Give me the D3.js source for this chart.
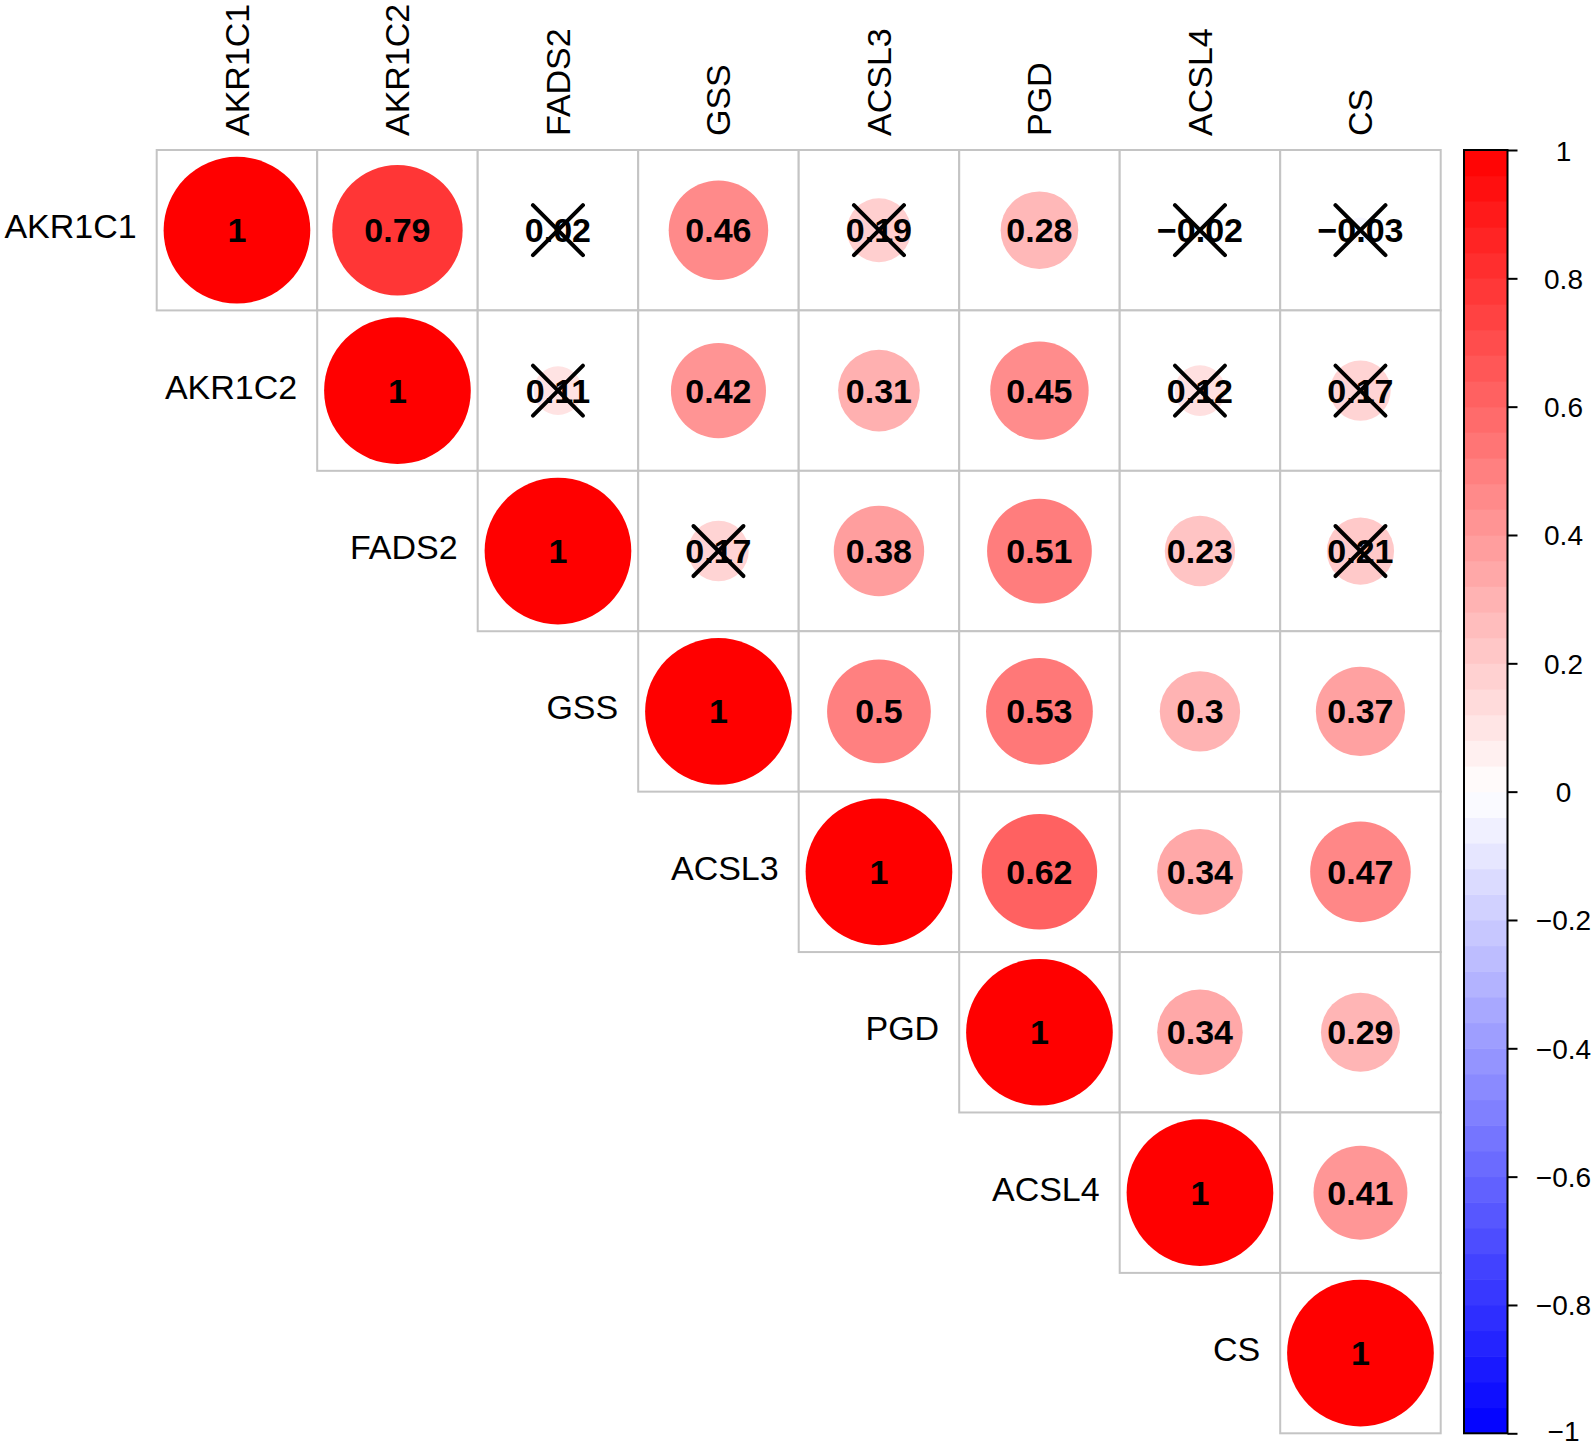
<!DOCTYPE html>
<html><head><meta charset="utf-8">
<script src="https://cdn.jsdelivr.net/npm/d3@7"></script>
<style>
html,body{margin:0;padding:0;background:#fff;}
svg{display:block;font-family:"Liberation Sans",Arial,sans-serif;}
</style></head>
<body>
<svg id="chart" width="1594" height="1448"></svg>
<script>
const genes = ["AKR1C1","AKR1C2","FADS2","GSS","ACSL3","PGD","ACSL4","CS"];
// upper triangle rows (starting at diagonal)
const rowAKR1C1 = [1, 0.79, 0.02, 0.46, 0.19, 0.28, -0.02, -0.03];
const rowAKR1C2 = [1, 0.11, 0.42, 0.31, 0.45, 0.12, 0.17];
const rowFADS2  = [1, 0.17, 0.38, 0.51, 0.23, 0.21];
const rowGSS    = [1, 0.5, 0.53, 0.3, 0.37];
const rowACSL3  = [1, 0.62, 0.34, 0.47];
const rowPGD    = [1, 0.34, 0.29];
const rowACSL4  = [1, 0.41];
const rowCS     = [1];
// non-significant flags (crossed)
const nsAKR1C1 = [0, 0, 1, 0, 1, 0, 1, 1];
const nsAKR1C2 = [0, 1, 0, 0, 0, 1, 1];
const nsFADS2  = [0, 1, 0, 0, 0, 1];
const nsGSS    = [0, 0, 0, 0, 0];
const nsACSL3  = [0, 0, 0, 0];
const nsPGD    = [0, 0, 0];
const nsACSL4  = [0, 0];
const nsCS     = [0];
const legendTicks = [1, 0.8, 0.6, 0.4, 0.2, 0, -0.2, -0.4, -0.6, -0.8, -1];

const rows = [rowAKR1C1,rowAKR1C2,rowFADS2,rowGSS,rowACSL3,rowPGD,rowACSL4,rowCS];
const nss = [nsAKR1C1,nsAKR1C2,nsFADS2,nsGSS,nsACSL3,nsPGD,nsACSL4,nsCS];
const cells = [];
rows.forEach((r,i)=>r.forEach((v,k)=>cells.push({row:genes[i], col:genes[i+k], i, j:i+k, v, ns:nss[i][k]})));

const svg = d3.select("#chart");
const x = d3.scaleBand().domain(genes).range([156.7, 1440.7]);
const y = d3.scaleBand().domain(genes).range([150, 1433.3]);
const cw = x.bandwidth(), ch = y.bandwidth();
const color = d3.scaleLinear().domain([-1,0,1]).range(["#0000FF","#FFFFFF","#FF0000"]);
const rad = d3.scaleSqrt().domain([0,1]).range([0, 0.457*cw]);
const fmt = v => (v<0?"\u2212":"") + String(Math.abs(v));

// cells
svg.append("g").selectAll("rect").data(cells).join("rect")
  .attr("x", d=>x(d.col)).attr("y", d=>y(d.row))
  .attr("width", cw).attr("height", ch)
  .attr("fill","#fff").attr("stroke","#C4C4C4").attr("stroke-width",2);

// circles
svg.append("g").selectAll("circle").data(cells).join("circle")
  .attr("cx", d=>x(d.col)+cw/2).attr("cy", d=>y(d.row)+ch/2)
  .attr("r", d=>rad(Math.abs(d.v)))
  .attr("fill", d=>color(d.v));

// numbers
svg.append("g").selectAll("text").data(cells).join("text")
  .attr("x", d=>x(d.col)+cw/2).attr("y", d=>y(d.row)+ch/2+12)
  .attr("text-anchor","middle").attr("font-size",34).attr("font-weight","bold")
  .attr("fill","#000").text(d=>fmt(d.v));

// crosses
const cr = 25;
const crossG = svg.append("g").attr("stroke","#000").attr("stroke-width",4).attr("stroke-linecap","round");
cells.filter(d=>d.ns).forEach(d=>{
  const cx = x(d.col)+cw/2, cy = y(d.row)+ch/2;
  crossG.append("line").attr("x1",cx-cr).attr("y1",cy-cr).attr("x2",cx+cr).attr("y2",cy+cr);
  crossG.append("line").attr("x1",cx-cr).attr("y1",cy+cr).attr("x2",cx+cr).attr("y2",cy-cr);
});

// column labels
svg.append("g").selectAll("text").data(genes).join("text")
  .attr("transform", g=>`translate(${x(g)+cw/2+12},136) rotate(-90)`)
  .attr("text-anchor","start").attr("font-size",34).attr("fill","#000").text(g=>g);

// row labels
svg.append("g").selectAll("text").data(genes).join("text")
  .attr("x", (g,i)=>x(genes[i])-20).attr("y", g=>y(g)+ch/2+8)
  .attr("text-anchor","end").attr("font-size",34).attr("fill","#000").text(g=>g);

// colorbar
const cbX = 1464, cbW = 43.5;
const cy = d3.scaleLinear().domain([-1,1]).range([1433.3,150]);
const nb = 50;
const bands = d3.range(nb).map(k=>({lo:-1+2*k/nb, hi:-1+2*(k+1)/nb}));
svg.append("g").selectAll("rect").data(bands).join("rect")
  .attr("x", cbX).attr("y", d=>cy(d.hi)).attr("width", cbW)
  .attr("height", d=>cy(d.lo)-cy(d.hi)+0.6)
  .attr("fill", d=>color((d.lo+d.hi)/2));
svg.append("rect").attr("x",cbX).attr("y",cy(1)).attr("width",cbW).attr("height",cy(-1)-cy(1))
  .attr("fill","none").attr("stroke","#000").attr("stroke-width",2);
const axis = d3.axisRight(cy).tickValues(legendTicks).tickSize(10).tickSizeOuter(0).tickFormat(fmt);
const ag = svg.append("g").attr("transform",`translate(${cbX+cbW},0)`).call(axis);
ag.select(".domain").remove();
ag.selectAll(".tick line").attr("stroke","#000").attr("stroke-width",2);
ag.selectAll(".tick text").attr("x",56).attr("dy",null).attr("y",d=>d===-1?7:10)
  .attr("text-anchor","middle").attr("font-size",28).attr("font-family","Liberation Sans, Arial, sans-serif").attr("fill","#000");
</script>
</body></html>
